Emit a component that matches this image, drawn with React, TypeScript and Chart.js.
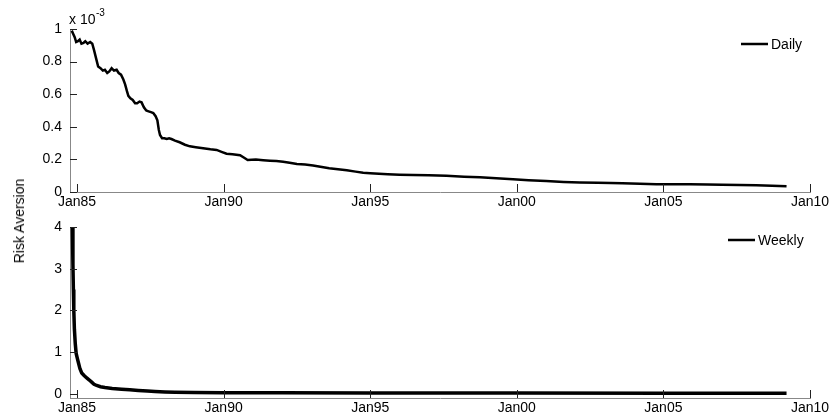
import React, { useEffect, useRef } from 'react';
import { Chart, registerables } from 'chart.js';

Chart.register(...registerables);

const FONT = "'Liberation Sans', Arial, Helvetica, sans-serif";

// x axis: decimal years
const xTickYears = [1985, 1990, 1995, 2000, 2005, 2010];
const xMin = 1984.76;
const xMax = 2010;

// Daily risk aversion (values in units of 10^-3)
const dailyYears = [
  1984.82, 1984.87, 1984.92, 1984.97, 1985.03, 1985.09, 1985.15, 1985.22, 1985.28, 1985.36,
  1985.45, 1985.52, 1985.58, 1985.65, 1985.72, 1985.8, 1985.88, 1985.95, 1986.03, 1986.1,
  1986.18, 1986.26, 1986.35, 1986.42, 1986.5, 1986.58, 1986.64, 1986.7, 1986.75, 1986.82,
  1986.9, 1986.98, 1987.05, 1987.13, 1987.2, 1987.28, 1987.36, 1987.44, 1987.52, 1987.6,
  1987.68, 1987.74, 1987.79, 1987.83, 1987.9, 1987.98, 1988.06, 1988.14, 1988.22, 1988.34,
  1988.5, 1988.68, 1988.85, 1989.05, 1989.3, 1989.55, 1989.76, 1989.95, 1990.1, 1990.3,
  1990.56, 1990.7, 1990.82, 1991.1, 1991.35, 1991.58, 1991.8, 1992.03, 1992.25, 1992.5,
  1992.78, 1993.05, 1993.3, 1993.6, 1993.9, 1994.2, 1994.5, 1994.76, 1995.0, 1995.3,
  1995.6, 1996.0, 1996.47, 1997.0, 1997.6, 1998.2, 1998.74, 1999.3, 1999.87, 2000.4,
  2001.0, 2001.6, 2002.15, 2002.76, 2003.2, 2003.6, 2004.2, 2004.76, 2005.3, 2005.9,
  2006.5, 2007.0, 2007.6, 2008.17, 2008.7, 2009.2,
];
const dailyValues = [
  0.99, 0.97, 0.95, 0.92, 0.925, 0.935, 0.91, 0.915, 0.925, 0.91,
  0.92, 0.91, 0.87, 0.82, 0.77, 0.76, 0.745, 0.75, 0.73, 0.74,
  0.76, 0.745, 0.75, 0.73, 0.72, 0.69, 0.66, 0.62, 0.59, 0.575,
  0.565, 0.545, 0.545, 0.555, 0.55, 0.52, 0.5, 0.495, 0.49, 0.485,
  0.465, 0.44, 0.38, 0.35, 0.33, 0.33, 0.325, 0.33, 0.325, 0.315,
  0.305, 0.29, 0.28, 0.275, 0.268, 0.262, 0.258, 0.245, 0.235, 0.232,
  0.226, 0.21, 0.196, 0.199, 0.195, 0.192, 0.19, 0.186, 0.18, 0.172,
  0.168, 0.163, 0.155, 0.146, 0.14, 0.134, 0.125, 0.118, 0.115, 0.112,
  0.109, 0.106, 0.104, 0.102, 0.099, 0.094, 0.09, 0.084, 0.078, 0.072,
  0.067, 0.062, 0.059, 0.057, 0.055, 0.053, 0.05, 0.047, 0.048, 0.047,
  0.046, 0.045, 0.043, 0.041, 0.039, 0.036,
];

// Weekly risk aversion
const weeklyYears = [
  1984.82, 1984.84, 1984.86, 1984.875, 1984.89, 1984.91, 1984.94, 1984.97, 1985.01, 1985.05,
  1985.1, 1985.16, 1985.24, 1985.33, 1985.42, 1985.5, 1985.58, 1985.67, 1985.8, 1985.95,
  1986.2, 1986.52, 1986.8, 1987.09, 1987.4, 1987.66, 1988.0, 1988.34, 1989.0, 1990.0,
  1992.0, 1995.0, 2000.0, 2005.0, 2009.2,
];
const weeklyValues = [
  4.6, 4.0, 3.1, 2.5, 2.0, 1.55, 1.2, 0.97, 0.85, 0.74,
  0.6, 0.5, 0.44, 0.38, 0.33, 0.28, 0.23, 0.2, 0.17, 0.15,
  0.13, 0.11, 0.095, 0.08, 0.065, 0.055, 0.046, 0.04, 0.033, 0.028,
  0.024, 0.02, 0.017, 0.015, 0.013,
];

const dailyYTicks = [0, 0.2, 0.4, 0.6, 0.8, 1];
const weeklyYTicks = [0, 1, 2, 3, 4];

type PanelCfg = {
  years: number[];
  values: number[];
  lineWidth: number;
  yMin: number;
  yMax: number;
  yTicks: number[];
  padTop: number;
  xAxisHeight: number;
  label: string;
  legendX0: number;
  legendX1: number;
  legendTextX: number;
  legendY: number;
  exponent: boolean;
};

function makeChart(canvas: HTMLCanvasElement, cfg: PanelCfg) {
  const overlay = {
    id: 'matlabOverlay',
    afterDraw(chart: any) {
      const ctx = chart.ctx;
      const xs = chart.scales.x;
      const ys = chart.scales.y;
      const { left, bottom } = chart.chartArea;
      ctx.save();
      ctx.strokeStyle = '#222';
      ctx.lineWidth = 1;
      xs.ticks.forEach((t: any) => {
        const px = Math.round(xs.getPixelForValue(t.value)) + 0.5;
        ctx.beginPath();
        ctx.moveTo(px, bottom);
        ctx.lineTo(px, bottom - 8);
        ctx.stroke();
      });
      ys.ticks.forEach((t: any) => {
        const py = Math.round(ys.getPixelForValue(t.value)) + 0.5;
        ctx.beginPath();
        ctx.moveTo(left, py);
        ctx.lineTo(left + 7, py);
        ctx.stroke();
      });
      // legend
      ctx.strokeStyle = '#000';
      ctx.lineWidth = 2.5;
      ctx.beginPath();
      ctx.moveTo(cfg.legendX0, cfg.legendY);
      ctx.lineTo(cfg.legendX1, cfg.legendY);
      ctx.stroke();
      ctx.fillStyle = '#000';
      ctx.font = `14px ${FONT}`;
      ctx.textBaseline = 'middle';
      ctx.textAlign = 'left';
      ctx.fillText(cfg.label, cfg.legendTextX, cfg.legendY + 1);
      if (cfg.exponent) {
        ctx.textBaseline = 'alphabetic';
        ctx.font = `14px ${FONT}`;
        ctx.fillText('x 10', 69, 24);
        ctx.font = `10px ${FONT}`;
        ctx.fillText('-3', 96, 16);
      }
      ctx.restore();
    },
  };

  return new Chart(canvas, {
    type: 'line',
    data: {
      datasets: [
        {
          label: cfg.label,
          data: cfg.years.map((x, i) => ({ x, y: cfg.values[i] })),
          borderColor: '#000',
          borderWidth: cfg.lineWidth,
          pointRadius: 0,
          tension: 0,
          fill: false,
          clip: 0,
        } as any,
      ],
    },
    options: {
      animation: false,
      responsive: false,
      maintainAspectRatio: false,
      layout: { padding: { left: 0, right: 23, top: cfg.padTop, bottom: 0 } },
      plugins: { legend: { display: false }, tooltip: { enabled: false }, title: { display: false } },
      scales: {
        x: {
          type: 'linear',
          min: xMin,
          max: xMax,
          grid: { display: false, drawTicks: false },
          border: { display: true, color: '#888', width: 1 },
          afterBuildTicks: (scale: any) => {
            scale.ticks = xTickYears.map((v) => ({ value: v }));
          },
          afterFit: (scale: any) => {
            scale.height = cfg.xAxisHeight;
            scale.paddingLeft = 0;
            scale.paddingRight = 0;
          },
          ticks: {
            autoSkip: false,
            maxRotation: 0,
            padding: 2,
            color: '#000',
            font: { family: FONT, size: 14 },
            callback: (v: any) => 'Jan' + String(Number(v) % 100).padStart(2, '0'),
          },
        },
        y: {
          type: 'linear',
          min: cfg.yMin,
          max: cfg.yMax,
          grid: { display: false, drawTicks: false },
          border: { display: true, color: '#888', width: 1 },
          afterBuildTicks: (scale: any) => {
            scale.ticks = cfg.yTicks.map((v) => ({ value: v }));
          },
          afterFit: (scale: any) => {
            scale.width = 70;
            scale.paddingTop = 0;
            scale.paddingBottom = 0;
          },
          ticks: {
            autoSkip: false,
            padding: 8,
            color: '#000',
            font: { family: FONT, size: 14 },
            callback: (v: any) => String(v),
          },
        },
      },
    },
    plugins: [overlay],
  } as any);
}

export default function App() {
  const topRef = useRef<HTMLCanvasElement>(null);
  const botRef = useRef<HTMLCanvasElement>(null);

  useEffect(() => {
    const c1 = makeChart(topRef.current!, {
      years: dailyYears,
      values: dailyValues,
      lineWidth: 2.5,
      yMin: 0,
      yMax: 1,
      yTicks: dailyYTicks,
      padTop: 29,
      xAxisHeight: 18,
      label: 'Daily',
      legendX0: 741,
      legendX1: 768,
      legendTextX: 771,
      legendY: 44,
      exponent: true,
    });
    const c2 = makeChart(botRef.current!, {
      years: weeklyYears,
      values: weeklyValues,
      lineWidth: 3.5,
      yMin: -0.1,
      yMax: 4,
      yTicks: weeklyYTicks,
      padTop: 17,
      xAxisHeight: 21,
      label: 'Weekly',
      legendX0: 728,
      legendX1: 755,
      legendTextX: 758,
      legendY: 30,
      exponent: false,
    });
    return () => {
      c1.destroy();
      c2.destroy();
    };
  }, []);

  return (
    <div style={{ position: 'fixed', left: 0, top: 0, width: 833, height: 419, background: '#fff', overflow: 'hidden' }}>
      <canvas ref={topRef} width={833} height={210} style={{ position: 'absolute', left: 0, top: 0, width: 833, height: 210 }} />
      <canvas ref={botRef} width={833} height={209} style={{ position: 'absolute', left: 0, top: 210, width: 833, height: 209 }} />
      <div
        style={{
          position: 'absolute',
          left: 19,
          top: 221,
          transform: 'translate(-50%, -50%) rotate(-90deg)',
          fontFamily: FONT,
          fontSize: 14,
          color: '#000',
          whiteSpace: 'nowrap',
          lineHeight: '16px',
        }}
      >
        Risk Aversion
      </div>
    </div>
  );
}
